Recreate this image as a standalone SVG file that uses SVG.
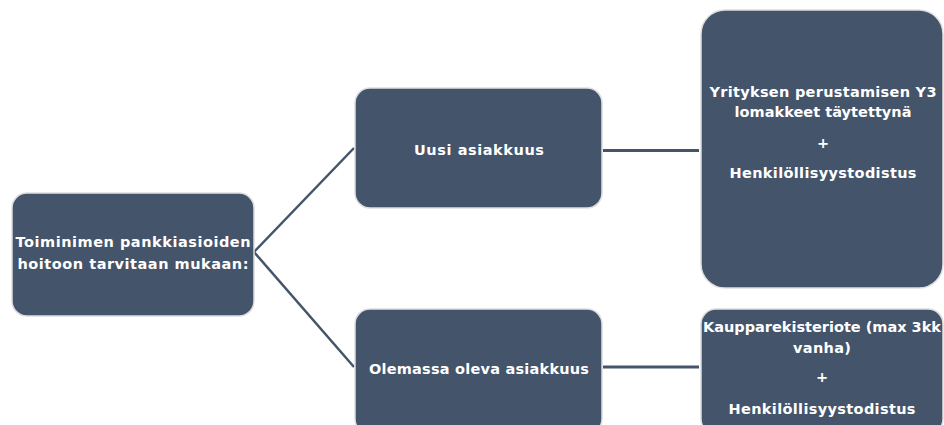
<svg xmlns="http://www.w3.org/2000/svg" width="944" height="425" viewBox="0 0 944 425">
  <style>
    .box { fill: #44546a; stroke: #dedede; stroke-width: 1.5; }
    .lbl { fill: #ffffff; font-family: "DejaVu Sans", Verdana, sans-serif; font-weight: bold; font-size: 14.5px; text-anchor: middle; }
    .conn { stroke: #44546a; fill: none; stroke-linecap: butt; }
  </style>
  <rect width="944" height="425" fill="#ffffff"/>

  <g id="connectors">
    <line class="conn" x1="254" y1="252" x2="354" y2="148" stroke-width="2.5"/>
    <line class="conn" x1="254" y1="252" x2="354" y2="367" stroke-width="2.5"/>
    <line class="conn" x1="603" y1="150.5" x2="699" y2="150.5" stroke-width="3"/>
    <line class="conn" x1="603" y1="367" x2="699" y2="367" stroke-width="3"/>
  </g>

  <g id="root">
    <rect class="box" x="12" y="193" width="242" height="123" rx="15"/>
    <text class="lbl" x="133" y="247" textLength="235">Toiminimen pankkiasioiden</text>
    <text class="lbl" x="133" y="269" textLength="231">hoitoon tarvitaan mukaan:</text>
  </g>

  <g id="new-customer">
    <rect class="box" x="355" y="88" width="247" height="120" rx="15"/>
    <text class="lbl" x="479" y="155" textLength="130">Uusi asiakkuus</text>
  </g>

  <g id="existing-customer">
    <rect class="box" x="355" y="309" width="247" height="125" rx="15"/>
    <text class="lbl" x="479" y="374" textLength="220">Olemassa oleva asiakkuus</text>
  </g>

  <g id="new-docs">
    <rect class="box" x="701" y="10" width="242" height="278" rx="24"/>
    <text class="lbl" x="823" y="97" textLength="227">Yrityksen perustamisen Y3</text>
    <text class="lbl" x="823" y="117" textLength="177">lomakkeet täytettynä</text>
    <text class="lbl" x="823" y="148">+</text>
    <text class="lbl" x="823" y="178" textLength="187">Henkilöllisyystodistus</text>
  </g>

  <g id="existing-docs">
    <rect class="box" x="701" y="309" width="242" height="125" rx="15"/>
    <text class="lbl" x="822" y="332" textLength="238">Kaupparekisteriote (max 3kk</text>
    <text class="lbl" x="822" y="353" textLength="58">vanha)</text>
    <text class="lbl" x="822" y="382">+</text>
    <text class="lbl" x="822" y="414" textLength="187">Henkilöllisyystodistus</text>
  </g>
</svg>
